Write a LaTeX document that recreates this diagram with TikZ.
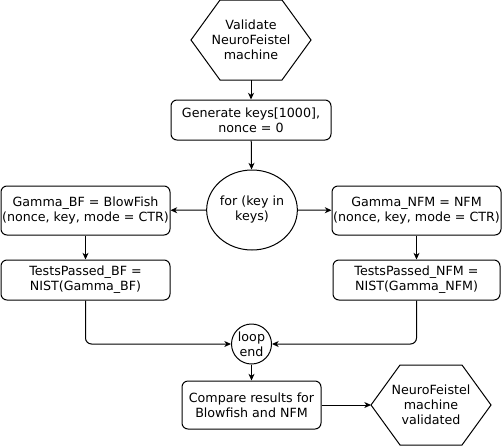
\documentclass[tikz,border=0pt]{standalone}
\usepackage{fontspec}
\setmainfont{DejaVu Sans}
\usetikzlibrary{shapes.geometric,arrows.meta}

\newcommand*{\hexcut}{21.75pt}
\newcommand*{\hexoutline}[1]{%
	\draw (#1.west) -- ([xshift=\hexcut]#1.north west) -- ([xshift=-\hexcut]#1.north east)
	  -- (#1.east) -- ([xshift=-\hexcut]#1.south east) -- ([xshift=\hexcut]#1.south west) -- cycle;
}

\begin{document}
\begin{tikzpicture}
[
	x=0.75pt,
	y=-0.75pt,
	line width=0.75pt,
	font=\fontsize{9.5}{11.25}\selectfont,
	procbox/.style={rectangle,draw,rounded corners=4.5pt,align=center,inner sep=0pt},
	hexnode/.style={rectangle,align=center,inner sep=0pt,outer sep=0pt,minimum width=90pt,minimum height=60pt},
	loopnode/.style={ellipse,draw,align=center,inner sep=0pt},
	arr/.style={-{Stealth[length=5pt,width=4.5pt,inset=1.5pt]}}
]
	\useasboundingbox (0,0) rectangle (502,446);

	% top row
	\node[hexnode] (start) at (251,40) {Validate\\NeuroFeistel\\machine};
	\hexoutline{start}
	\node[procbox,minimum width=120pt,minimum height=30pt] (gen) at (251,120) {Generate keys[1000],\\nonce = 0};
	\node[loopnode,minimum width=67.5pt,minimum height=60pt] (loop) at (252,210) {for (key in\\keys)};

	% both branches
	\node[procbox,minimum width=126.75pt,minimum height=36.75pt] (bf1) at (85.5,210.5) {Gamma\_BF = BlowFish\\(nonce, key, mode = CTR)};
	\node[procbox,minimum width=126.75pt,minimum height=30pt] (bf2) at (85.5,280) {TestsPassed\_BF =\\NIST(Gamma\_BF)};
	\node[procbox,minimum width=126.75pt,minimum height=36.75pt] (nfm1) at (416.5,210.5) {Gamma\_NFM = NFM\\(nonce, key, mode = CTR)};
	\node[procbox,minimum width=125.25pt,minimum height=30pt] (nfm2) at (416.5,280) {TestsPassed\_NFM =\\NIST(Gamma\_NFM)};

	% bottom row
	\node[circle,draw,align=center,inner sep=0pt,minimum size=30pt] (endloop) at (251.5,344) {loop\\end};
	\node[procbox,minimum width=104.25pt,minimum height=36pt] (cmp) at (251.5,405) {Compare results for\\Blowfish and NFM};
	\node[hexnode] (done) at (431,405) {NeuroFeistel\\machine\\validated};
	\hexoutline{done}

	% arrows
	\draw[arr] (start) -- (gen);
	\draw[arr] (gen) -- (loop);
	\draw[arr] (loop) -- (bf1);
	\draw[arr] (loop) -- (nfm1);
	\draw[arr] (bf1) -- (bf2);
	\draw[arr] (nfm1) -- (nfm2);
	\draw[arr,rounded corners=4.5pt] (bf2.south) |- (endloop.west);
	\draw[arr,rounded corners=4.5pt] (nfm2.south) |- (endloop.east);
	\draw[arr] (endloop) -- (cmp);
	\draw[arr] (cmp) -- (done);

\end{tikzpicture}
\end{document}
